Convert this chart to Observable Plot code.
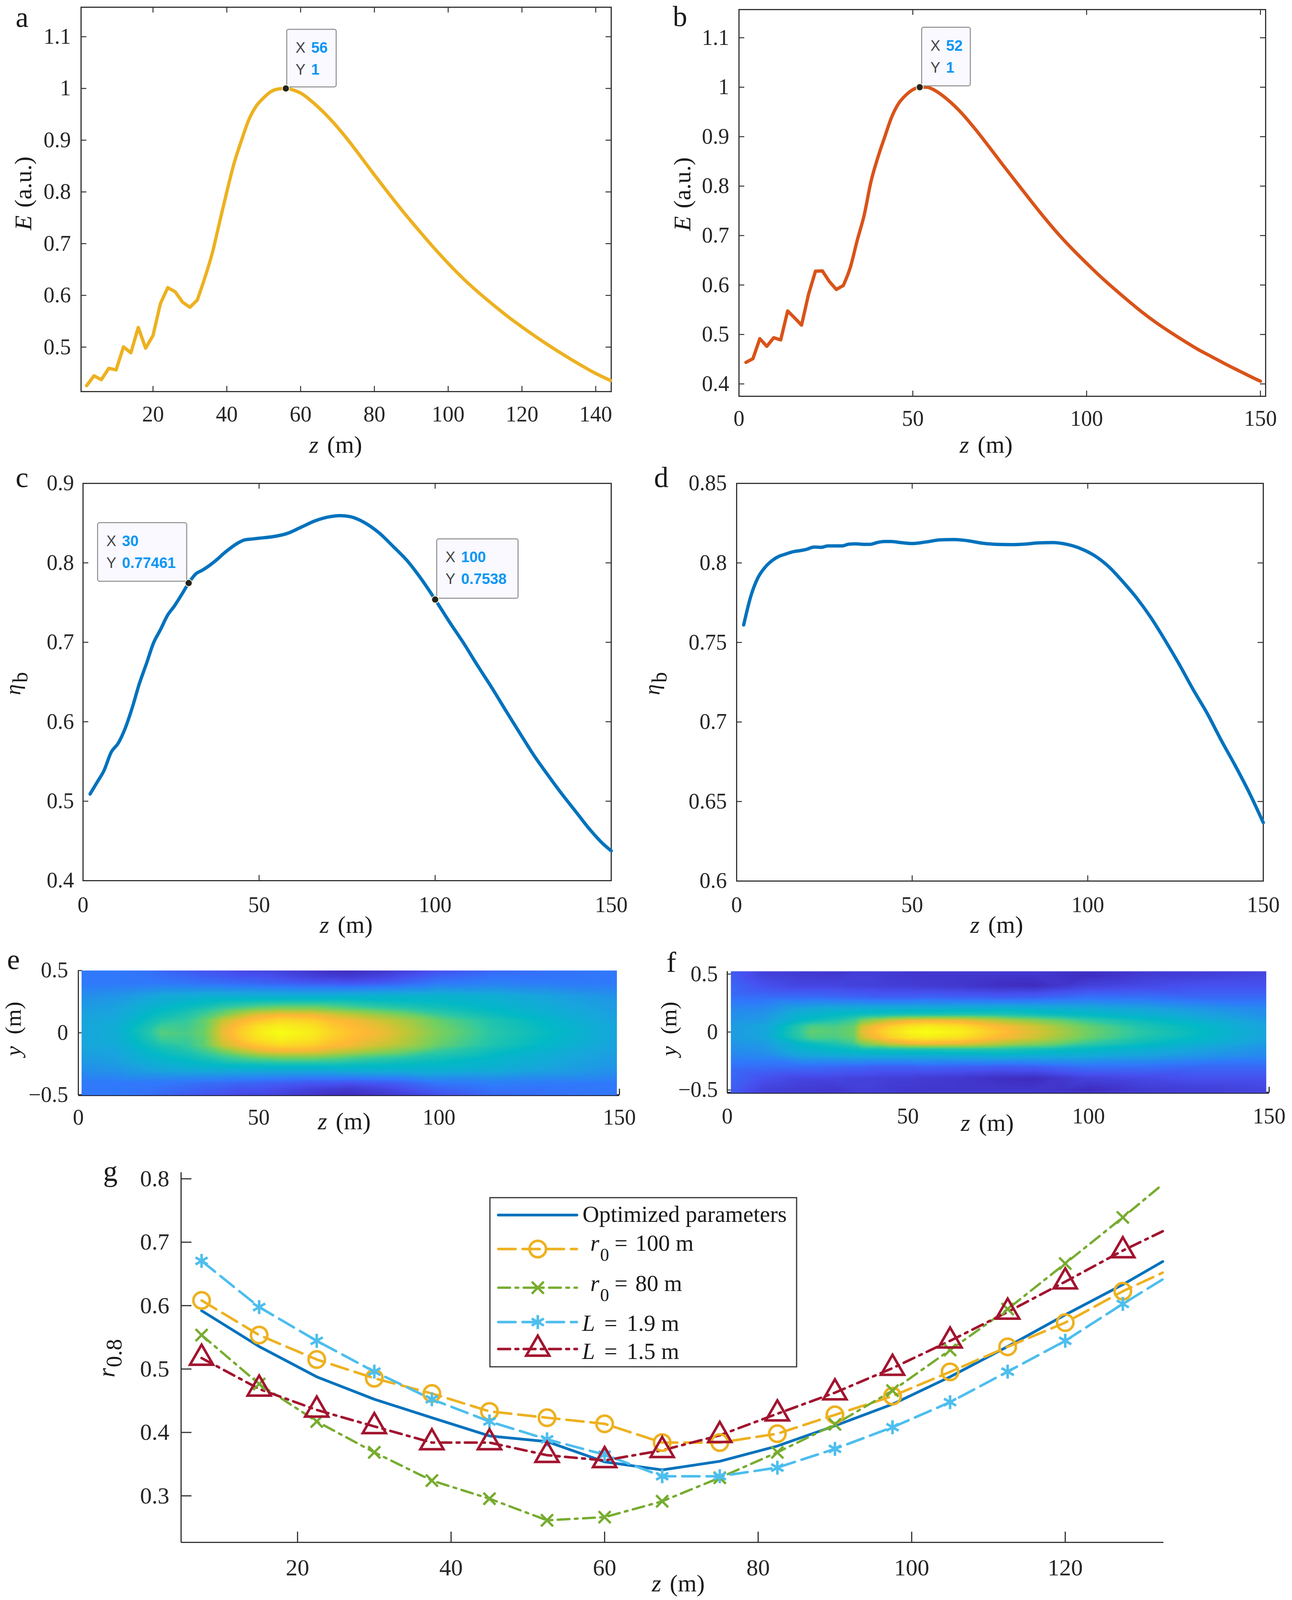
<!DOCTYPE html>
<html>
<head>
<meta charset="utf-8">
<script src="https://cdn.jsdelivr.net/npm/d3@7"></script>
<script src="https://cdn.jsdelivr.net/npm/@observablehq/plot@0.6"></script>
<style>
html,body{margin:0;padding:0;background:#fff;}
#page{position:relative;width:3307px;height:4106px;overflow:hidden;background:#fff;}
#page svg text{font-family:"Liberation Serif","Times New Roman",serif;}
#page svg g.tip text{font-family:"Liberation Sans",Arial,sans-serif;}
</style>
</head>
<body>
<div id="page"></div>
<script>
// ---- data ----
const zA = [2,4,6,8,10,12,14,16,18,20,22,24,26,28,30,32,34,36,38,40,42,44,46,48,50,52,54,56,58,60,64,68,72,76,80,84,88,92,96,100,104,108,112,116,120,124,128,132,136,140,144];
const eA = [.4254,.4445,.437,.459,.456,.5005,.489,.538,.498,.5225,.584,.615,.607,.587,.577,.591,.633,.68,.74,.8,.856,.9,.94,.966,.982,.994,.999,1,.997,.991,.969,.941,.908,.871,.833,.796,.76,.726,.693,.662,.633,.607,.583,.56,.539,.519,.5,.482,.465,.449,.4355];
const zB = [2,4,6,8,10,12,14,16,18,20,22,24,26,28,30,32,34,36,38,40,42,44,46,48,50,52,54,56,58,60,64,68,72,76,80,84,88,92,96,100,104,108,112,116,120,124,128,132,136,140,144,148,150];
const eB = [.4435,.451,.4915,.476,.4935,.489,.5475,.5335,.519,.581,.628,.6285,.607,.591,.599,.635,.69,.741,.81,.859,.901,.941,.968,.984,.995,1,1,.995,.986,.975,.948,.915,.879,.842,.806,.77,.735,.702,.672,.644,.617,.592,.568,.545,.524,.505,.487,.47,.455,.44,.426,.412,.4055];
const zC = [2,4,6,8,10,12,14,16,18,20,22,24,26,28,30,32,34,36,38,40,42,44,46,48,50,54,58,62,66,70,73,76,80,84,88,92,96,100,104,108,112,116,120,124,128,132,136,140,144,148,150];
const etaC = [.509,.5238,.539,.5617,.573,.592,.618,.648,.673,.699,.716,.734,.746,.76,.7746,.786,.791,.797,.804,.812,.819,.825,.829,.83,.831,.833,.837,.845,.853,.858,.8595,.858,.8505,.838,.821,.803,.78,.7538,.726,.6995,.671,.6435,.6145,.586,.558,.533,.509,.4865,.464,.445,.4375];
const zD = [2,4,6,8,10,12,14,16,18,20,22,24,26,28,30,32,34,36,38,40,42,44,46,50,54,58,62,66,70,74,78,82,86,90,94,98,102,106,110,114,118,122,126,130,134,138,142,146,150];
const etaD = [.761,.7788,.7904,.797,.8013,.8041,.8056,.807,.8077,.8086,.81,.8098,.8107,.8107,.8107,.8118,.812,.8117,.8117,.8128,.8135,.8135,.813,.8122,.8132,.8145,.8147,.8139,.8124,.8117,.8115,.8118,.8126,.8128,.8117,.809,.8045,.7976,.7882,.7778,.7656,.7515,.7365,.7205,.7055,.6886,.6726,.6556,.6367];

// field maps: colour position (0..1) for |y| rows and z columns
const heatZE = [0,10,20,23,30,35,40,45,50,56,65,70,75,85,92,100,115,130,150];
const heatYE = [0,.05,.1,.15,.2,.25,.3,.4,.45,.5];
const heatE = [
 [.33,.36,.5,.58,.56,.62,.82,.9,.96,1,.96,.91,.88,.82,.74,.64,.5,.43,.33],
 [.33,.36,.48,.54,.54,.6,.8,.88,.94,.97,.94,.89,.86,.8,.72,.62,.49,.42,.33],
 [.33,.35,.45,.48,.52,.6,.76,.84,.88,.92,.9,.86,.84,.76,.7,.6,.48,.41,.32],
 [.32,.33,.42,.44,.48,.54,.62,.72,.8,.83,.82,.78,.74,.66,.6,.52,.44,.38,.31],
 [.3,.32,.39,.41,.44,.47,.52,.56,.6,.63,.63,.6,.57,.52,.49,.46,.41,.36,.3],
 [.28,.3,.36,.37,.4,.42,.44,.45,.46,.47,.47,.47,.46,.44,.43,.42,.39,.34,.29],
 [.26,.28,.32,.34,.35,.36,.36,.36,.36,.36,.36,.36,.37,.38,.38,.38,.36,.32,.27],
 [.2,.2,.2,.2,.19,.18,.17,.16,.15,.14,.12,.12,.11,.13,.16,.2,.22,.21,.2],
 [.2,.2,.19,.18,.16,.14,.13,.11,.11,.09,.06,.05,.04,.07,.11,.15,.19,.19,.2],
 [.2,.2,.18,.16,.13,.11,.1,.08,.07,.06,.03,.01,0,.03,.06,.1,.16,.18,.2]
];
const heatZF = [0,10,20,23,30,35,37,40,45,50,55,65,70,75,85,92,100,115,130,150];
const heatYF = [0,.05,.1,.15,.2,.3,.4,.5,.524];
const heatF = [
 [.3,.33,.52,.6,.58,.62,.8,.86,.93,.98,1,.97,.92,.88,.8,.72,.62,.5,.43,.33],
 [.3,.33,.5,.56,.56,.6,.76,.82,.9,.94,.96,.93,.89,.85,.77,.69,.6,.48,.42,.32],
 [.28,.3,.42,.44,.48,.54,.62,.68,.77,.82,.84,.82,.78,.74,.66,.6,.52,.44,.38,.3],
 [.26,.28,.38,.39,.42,.44,.45,.46,.47,.48,.48,.49,.49,.49,.46,.44,.42,.38,.33,.27],
 [.24,.25,.33,.34,.36,.37,.37,.37,.37,.37,.37,.38,.38,.39,.38,.37,.36,.33,.29,.25],
 [.18,.17,.17,.17,.16,.15,.15,.14,.14,.14,.15,.14,.14,.13,.14,.16,.18,.18,.16,.16],
 [.16,.1,.07,.07,.07,.06,.06,.06,.05,.05,.04,.03,.02,.01,0,.03,.06,.08,.1,.1],
 [.14,.06,.04,.04,.03,.05,.05,.05,.04,.03,.03,.03,.03,.03,.03,.02,0,.04,.05,.07],
 [.14,.06,.05,.05,.04,.05,.05,.05,.05,.04,.04,.04,.04,.04,.04,.04,.03,.05,.06,.08]
];
const parulaT = [0,.1,.2,.33,.42,.52,.62,.75,.85,1];
const parulaC = ["#3f2cbf","#4650ef","#3079fb","#18a5dd","#02b9c6","#31c9a0","#70d062","#c0c735","#ffb835","#f6ff12"];

const zG = [7.5,15,22.5,30,37.5,45,52.5,60,67.5,75,82.5,90,97.5,105,112.5,120,127.5,132.7];
const rOpt  = [.592,.5355,.4877,.4523,.4232,.3945,.3855,.3536,.3409,.3545,.3786,.4105,.4445,.4877,.5355,.5855,.6332,.6695];
const r100  = [.6082,.5536,.515,.4855,.4614,.4332,.4232,.4136,.384,.384,.398,.4277,.4573,.4955,.535,.5732,.6227,.652];
const r80   = [.5536,.4764,.4173,.3686,.3241,.2955,.2614,.2664,.2914,.3286,.3686,.4127,.4659,.53,.5945,.6664,.7391,.7914];
const rL19  = [.6705,.5977,.5445,.4959,.4523,.4173,.3891,.365,.3309,.3309,.3445,.3741,.4082,.4477,.4959,.5445,.6027,.6414];
const rL15  = [.5173,.4686,.4355,.4095,.384,.384,.3641,.3559,.3718,.3955,.4295,.4627,.5014,.5445,.59,.6377,.6868,.7173];

const tipsA = [{x:56,y:1,x1:56.3,x2:69.7,y1:1.114,y2:1.0026,xs:"56",ys:"1"}];
const tipsB = [{x:52,y:1,x1:52.6,x2:66.6,y1:1.1208,y2:1.0024,xs:"52",ys:"1"}];
const tipsC = [
 {x:30,y:.77461,x1:4.2,x2:29.5,y1:.8503,y2:.7766,xs:"30",ys:"0.77461"},
 {x:100,y:.7538,x1:100.5,x2:123.6,y1:.83,y2:.7552,xs:"100",ys:"0.7538"}
];

const SERIF = '"Liberation Serif","Times New Roman",serif';
const SANS = '"Liberation Sans",Arial,sans-serif';
const INK = "#262626";
const page = document.getElementById("page");
const zip = (xs, ys) => xs.map((x, i) => ({x, y: ys[i]}));
const fmt = d => String(d).replace("-", "\u2212");

// rich text (italics, subscripts) at page coordinates
function rich(runs, box, px, py, o = {}) {
  return () => {
    const t = d3.create("svg:text")
      .attr("transform", `translate(${px - box[0]},${py - box[1]})` + (o.rotate ? ` rotate(${o.rotate})` : ""))
      .attr("text-anchor", o.anchor || "middle")
      .attr("fill", "#1a1a1a")
      .style("font-family", SERIF)
      .style("font-size", (o.size || 62) + "px");
    for (const r of runs) {
      t.append("svg:tspan").text(r.t)
        .attr("dx", r.dx || 0).attr("dy", r.dy || 0)
        .style("font-style", r.i ? "italic" : "normal")
        .style("font-size", (r.size || o.size || 62) + "px");
    }
    return t.node();
  };
}
const letter = (s, box, x, y) => rich([{t: s}], box, x, y, {anchor: "start", size: 74});

function tipMarks(tips) {
  const tipText = {x: "x1", y: "y1", textAnchor: "start", fontFamily: SANS, fontSize: 38, className: "tip"};
  return [
    Plot.rect(tips, {x1: "x1", x2: "x2", y1: "y1", y2: "y2", rx: 5, fill: "#f9f9ff", stroke: "#8c8c8c", strokeWidth: 2.5}),
    Plot.text(tips, {...tipText, text: () => "X", dx: 22, dy: 47, fill: "#444"}),
    Plot.text(tips, {...tipText, text: () => "Y", dx: 22, dy: 103, fill: "#444"}),
    Plot.text(tips, {...tipText, text: "xs", dx: 62, dy: 47, fontWeight: "bold", fill: "#0a96f5"}),
    Plot.text(tips, {...tipText, text: "ys", dx: 62, dy: 103, fontWeight: "bold", fill: "#0a96f5"}),
    Plot.dot(tips, {x: "x", y: "y", r: 9, fill: "#222", stroke: "#fffbd0", strokeWidth: 2})
  ];
}

function place(box, frame, cfg, marks) {
  const [ox, oy, w, h] = box;
  const [L, R, T, B] = frame;
  const svg = Plot.plot({
    width: w, height: h,
    marginLeft: L - ox, marginRight: ox + w - R, marginTop: T - oy, marginBottom: oy + h - B,
    x: {domain: cfg.xd, label: null, axis: null},
    y: {domain: cfg.yd, label: null, axis: null},
    color: cfg.color,
    style: {position: "absolute", left: ox + "px", top: oy + "px", background: "transparent", overflow: "visible"},
    marks
  });
  page.appendChild(svg);
}
const axisOpts = (pad, font) => ({tickSize: 0, tickPadding: pad, label: null, tickFormat: fmt, fill: INK, color: INK,
  fontVariant: "normal", fontFamily: SERIF, fontSize: font});

function boxedAxes(frame, xt, yt, pads) {
  const W = frame[1] - frame[0], H = frame[3] - frame[2], len = 14;
  const tick = {stroke: "#333", strokeWidth: 2.5};
  return [
    Plot.frame({stroke: "#333", strokeWidth: 3}),
    Plot.tickX(xt, {x: d => d, insetTop: H - len, ...tick}),
    Plot.tickX(xt, {x: d => d, insetBottom: H - len, ...tick}),
    Plot.tickY(yt, {y: d => d, insetLeft: W - len, ...tick}),
    Plot.tickY(yt, {y: d => d, insetRight: W - len, ...tick}),
    Plot.axisX(xt, axisOpts(pads[0], 56)),
    Plot.axisY(yt, axisOpts(pads[1], 56))
  ];
}

const LW = 8.5;
const zm = [{t: "z", i: 1}, {t: "(m)", dx: 22}];
// jagged start drawn straight, smooth remainder with a monotone curve
function curveMarks(zs, vs, split, stroke) {
  const pts = zip(zs, vs);
  const parts = [];
  if (split > 0) parts.push(Plot.line(pts.slice(0, split + 1), {x: "x", y: "y", stroke, strokeWidth: LW}));
  parts.push(Plot.line(pts.slice(split), {x: "x", y: "y", stroke, strokeWidth: LW, curve: "monotone-x"}));
  return parts;
}

// ---- a ----
{
  const box = [0, 0, 1650, 1180], fr = [207, 1564, 18, 1002];
  place(box, fr, {xd: [.5, 144.2], yd: [.414, 1.157]}, [
    ...boxedAxes(fr, [20,40,60,80,100,120,140], [.5,.6,.7,.8,.9,1,1.1], [37, 26]),
    ...curveMarks(zA, eA, 15, "#EDB120"),
    ...tipMarks(tipsA),
    letter("a", box, 40, 69),
    rich(zm, box, 859, 1159),
    rich([{t: "E", i: 1}, {t: "(a.u.)", dx: 20}], box, 80, 495, {rotate: -90})
  ]);
}
// ---- b ----
{
  const box = [1650, 0, 1657, 1180], fr = [1891, 3239, 24, 1014];
  place(box, fr, {xd: [0, 151.5], yd: [.375, 1.157]}, [
    ...boxedAxes(fr, [0,50,100,150], [.4,.5,.6,.7,.8,.9,1,1.1], [36, 25]),
    ...curveMarks(zB, eB, 14, "#D95319"),
    ...tipMarks(tipsB),
    letter("b", box, 1722, 67),
    rich(zm, box, 2524, 1159),
    rich([{t: "E", i: 1}, {t: "(a.u.)", dx: 20}], box, 1767, 497, {rotate: -90})
  ]);
}
// ---- c ----
{
  const box = [0, 1180, 1650, 1240], fr = [212, 1564, 1237, 2254];
  place(box, fr, {xd: [0, 150], yd: [.4, .9]}, [
    ...boxedAxes(fr, [0,50,100,150], [.4,.5,.6,.7,.8,.9], [41, 23]),
    ...curveMarks(zC, etaC, 0, "#0072BD"),
    ...tipMarks(tipsC),
    letter("c", box, 40, 1247),
    rich(zm, box, 886, 2388),
    rich([{t: "\u03B7", i: 1}, {t: "b", dx: 4, dy: 18, size: 54}], box, 52, 1750, {rotate: -90, size: 56})
  ]);
}
// ---- d ----
{
  const box = [1650, 1180, 1657, 1240], fr = [1885, 3233, 1237, 2255];
  place(box, fr, {xd: [0, 150], yd: [.6, .85]}, [
    ...boxedAxes(fr, [0,50,100,150], [.6,.65,.7,.75,.8,.85], [40, 25]),
    ...curveMarks(zD, etaD, 0, "#0072BD"),
    letter("d", box, 1674, 1247),
    rich(zm, box, 2551, 2388),
    rich([{t: "\u03B7", i: 1}, {t: "b", dx: 4, dy: 18, size: 54}], box, 1688, 1750, {rotate: -90, size: 56})
  ]);
}
// heat rows mirrored about y = 0
function heatPoints(zs, ys, rows) {
  const pts = [];
  ys.forEach((y, r) => zs.forEach((z, c) => {
    pts.push({z, y, t: rows[r][c]});
    if (y !== 0) pts.push({z, y: -y, t: rows[r][c]});
  }));
  return pts;
}
function heatPanel(box, fr, yd, pts, x1, x2, yt, pads, lab) {
  const W = fr[1] - fr[0];
  place(box, fr, {xd: [0, 150], yd, color: {type: "linear", domain: parulaT, range: parulaC}}, [
    Plot.ruleX([0], {stroke: "#333", strokeWidth: 3}),
    Plot.ruleY([yd[0]], {stroke: "#2a2a40", strokeWidth: 5}),
    Plot.ruleX([150], {y1: yd[0], y2: yd[0] + .05, stroke: "#333", strokeWidth: 3}),
    Plot.tickY(yt, {y: d => d, insetRight: W - 10, stroke: "#333", strokeWidth: 2.5}),
    Plot.raster(pts, {x: "z", y: "y", fill: "t", interpolate: "barycentric", x1, x2, y1: yd[0], y2: yd[1], pixelSize: 2}),
    Plot.axisX([0,50,100,150], axisOpts(pads[0], 56)),
    Plot.axisY(yt, axisOpts(pads[1], 56)),
    ...lab
  ]);
}
// ---- e ----
{
  const box = [0, 2420, 1650, 510], fr = [200, 1585, 2484, 2803];
  heatPanel(box, fr, [-.5, .5], heatPoints(heatZE, heatYE, heatE), .9, 149.3, [-.5, 0, .5], [36, 26], [
    letter("e", box, 18, 2481),
    rich(zm, box, 881, 2891),
    rich([{t: "y", i: 1}, {t: "(m)", dx: 30}], box, 53, 2634, {rotate: -90, size: 58})
  ]);
}
// ---- f ----
{
  const box = [1650, 2420, 1657, 510], fr = [1861, 3248, 2486, 2797];
  heatPanel(box, fr, [-.524, .524], heatPoints(heatZF, heatYF, heatF), 1, 149.2, [-.5, 0, .5], [39, 24], [
    letter("f", box, 1706, 2488),
    rich(zm, box, 2527, 2895),
    rich([{t: "y", i: 1}, {t: "(m)", dx: 30}], box, 1731, 2634, {rotate: -90, size: 58})
  ]);
}
// ---- g ----
const gSeries = [
  {k: "opt", v: rOpt, c: "#0072BD", dash: null, sym: null, w: 7},
  {k: "r100", v: r100, c: "#EDB120", dash: "44 18", sym: "circle", r: 21, w: 6.5},
  {k: "r80", v: r80, c: "#77AC30", dash: "30 14 7 14", sym: "times", r: 14, w: 6},
  {k: "L19", v: rL19, c: "#4DBEEE", dash: "44 18", sym: "asterisk", r: 17, w: 6.5},
  {k: "L15", v: rL15, c: "#A2142F", dash: "30 14 7 14", sym: "triangle", r: 22, w: 6.5}
];
{
  const box = [0, 2930, 3307, 1176], fr = [463, 2978, 3001, 3948];
  const H = fr[3] - fr[2], W = fr[1] - fr[0], len = 27;
  const tick = {stroke: "#333", strokeWidth: 3};
  const xt = [20,40,60,80,100,120], yt = [.3,.4,.5,.6,.7,.8];
  const marks = [
    Plot.ruleX([4.83], {stroke: "#333", strokeWidth: 3}),
    Plot.ruleY([.2266], {stroke: "#333", strokeWidth: 3}),
    Plot.tickX(xt, {x: d => d, insetTop: H - len, ...tick}),
    Plot.tickY(yt, {y: d => d, insetRight: W - len, ...tick}),
    Plot.axisX(xt, axisOpts(42, 60)),
    Plot.axisY(yt, axisOpts(30, 60))
  ];
  for (const s of gSeries) {
    const pts = zip(zG, s.v);
    marks.push(Plot.line(pts, {x: "x", y: "y", stroke: s.c, strokeWidth: s.w, strokeDasharray: s.dash}));
  }
  for (const s of gSeries) {
    if (!s.sym) continue;
    const pts = zip(zG, s.v).slice(0, 17);
    marks.push(Plot.dot(pts, {x: "x", y: "y", symbol: () => s.sym, r: s.r, stroke: s.c, strokeWidth: s.w, fill: "none"}));
  }
  marks.push(
    letter("g", box, 264, 3023),
    rich([{t: "z", i: 1}, {t: "(m)", dx: 22}], box, 1736, 4074),
    rich([{t: "r", i: 1}, {t: "0.8", dx: 2, dy: 18, size: 58}], box, 293, 3477, {rotate: -90, size: 62})
  );
  place(box, fr, {xd: [4.83, 132.82], yd: [.2266, .81]}, marks);
}
// ---- g legend ----
{
  const box = [1254, 3066, 785, 433], fr = [1254, 2039, 3066, 3499];
  const rows = [3110, 3197, 3296, 3384, 3453];
  const marks = [Plot.rect([0], {x1: () => 0, x2: () => 785, y1: () => 0, y2: () => 433, fill: "#fff", stroke: "#333", strokeWidth: 3})];
  gSeries.forEach((s, i) => {
    const y = rows[i] - 3066;
    marks.push(Plot.line([{x: 21, y}, {x: 222, y}], {x: "x", y: "y", stroke: s.c, strokeWidth: s.w, strokeDasharray: s.dash}));
    if (s.sym) marks.push(Plot.dot([{x: 122, y}], {x: "x", y: "y", symbol: () => s.sym, r: s.r, stroke: s.c, strokeWidth: s.w, fill: "none"}));
  });
  const op = {anchor: "start", size: 59};
  const rr = tail => [{t: "r", i: 1}, {t: "0", dx: 2, dy: 26, size: 46}, {t: "=", dx: 14, dy: -26}, {t: tail, dx: 20}];
  const ll = tail => [{t: "L", i: 1}, {t: "=", dx: 24}, {t: tail, dx: 24}];
  marks.push(
    rich([{t: "Optimized parameters"}], box, 1491, 3128, op),
    rich(rr("100 m"), box, 1511, 3202, op),
    rich(rr("80 m"), box, 1511, 3305, op),
    rich(ll("1.9 m"), box, 1490, 3407, op),
    rich(ll("1.5 m"), box, 1490, 3479, op)
  );
  place(box, fr, {xd: [0, 785], yd: [433, 0]}, marks);
}
</script>
</body>
</html>
